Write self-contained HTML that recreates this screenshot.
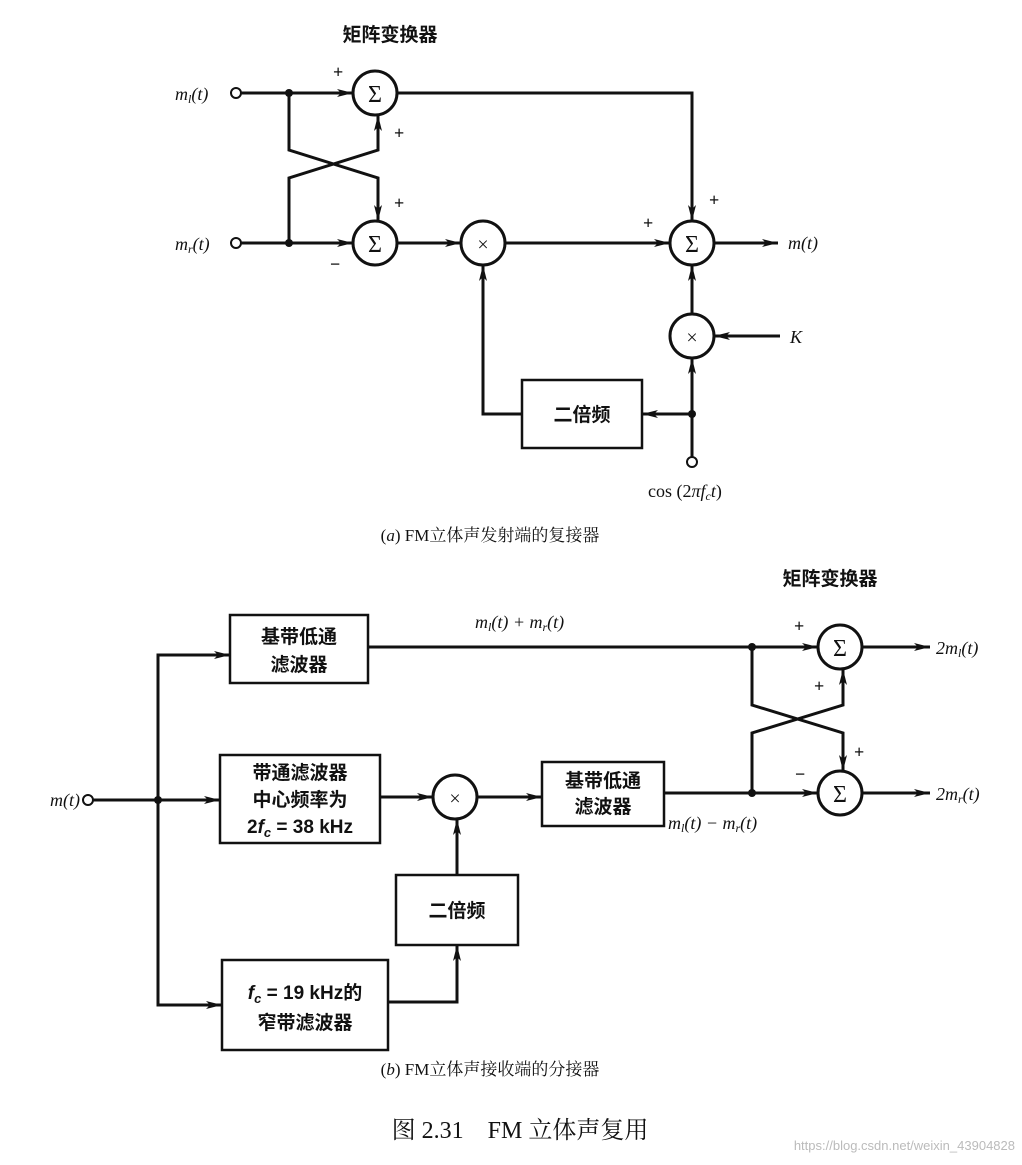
<!DOCTYPE html>
<html><head><meta charset="utf-8"><style>
html,body{margin:0;padding:0;background:#fff;}
svg{display:block;}
text{font-family:"Liberation Serif","Noto Serif CJK SC",serif;fill:#111;}
.cj, .cj text{font-family:"Liberation Sans","Noto Sans CJK SC",sans-serif;font-weight:bold;}
</style></head><body>
<svg width="1022" height="1165" viewBox="0 0 1022 1165" xmlns="http://www.w3.org/2000/svg">
<defs>
<marker id="A" viewBox="0 0 20 10" refX="20" refY="5" markerWidth="16" markerHeight="8" orient="auto" markerUnits="userSpaceOnUse">
<path d="M0,0 L20,5 L0,10 L5,5 z" fill="#111"/></marker>
</defs>
<g stroke="#111" stroke-width="3" fill="none">
<circle cx="236" cy="93" r="5" stroke-width="2"/>
<circle cx="236" cy="243" r="5" stroke-width="2"/>
<line x1="241" y1="93" x2="353" y2="93" marker-end="url(#A)"/>
<line x1="241" y1="243" x2="353" y2="243" marker-end="url(#A)"/>
<circle cx="375" cy="93" r="22"/>
<circle cx="375" cy="243" r="22"/>
<polyline points="289,93 289,150 378,178 378,221" marker-end="url(#A)"/>
<polyline points="289,243 289,178 378,150 378,115" marker-end="url(#A)"/>
<line x1="397" y1="243" x2="461" y2="243" marker-end="url(#A)"/>
<circle cx="483" cy="243" r="22"/>
<line x1="505" y1="243" x2="670" y2="243" marker-end="url(#A)"/>
<polyline points="397,93 692,93 692,221" marker-end="url(#A)"/>
<circle cx="692" cy="243" r="22"/>
<line x1="714" y1="243" x2="778" y2="243" marker-end="url(#A)"/>
<circle cx="692" cy="336" r="22"/>
<line x1="780" y1="336" x2="714" y2="336" marker-end="url(#A)"/>
<line x1="692" y1="314" x2="692" y2="265" marker-end="url(#A)"/>
<line x1="692" y1="457" x2="692" y2="358" marker-end="url(#A)"/>
<circle cx="692" cy="462" r="5" stroke-width="2"/>
<rect x="522" y="380" width="120" height="68" stroke-width="2.5"/>
<line x1="692" y1="414" x2="642" y2="414" marker-end="url(#A)"/>
<polyline points="522,414 483,414 483,265" marker-end="url(#A)"/>
<circle cx="88" cy="800" r="5" stroke-width="2"/>
<line x1="93" y1="800" x2="220" y2="800" marker-end="url(#A)"/>
<polyline points="230,655 158,655 158,1005 222,1005"/>
<line x1="158" y1="655" x2="230" y2="655" marker-end="url(#A)"/>
<line x1="158" y1="1005" x2="222" y2="1005" marker-end="url(#A)"/>
<rect x="230" y="615" width="138" height="68" stroke-width="2.5"/>
<rect x="220" y="755" width="160" height="88" stroke-width="2.5"/>
<rect x="222" y="960" width="166" height="90" stroke-width="2.5"/>
<line x1="368" y1="647" x2="818" y2="647" marker-end="url(#A)"/>
<circle cx="840" cy="647" r="22"/>
<circle cx="840" cy="793" r="22"/>
<line x1="380" y1="797" x2="433" y2="797" marker-end="url(#A)"/>
<circle cx="455" cy="797" r="22"/>
<line x1="477" y1="797" x2="542" y2="797" marker-end="url(#A)"/>
<rect x="542" y="762" width="122" height="64" stroke-width="2.5"/>
<line x1="664" y1="793" x2="818" y2="793" marker-end="url(#A)"/>
<rect x="396" y="875" width="122" height="70" stroke-width="2.5"/>
<polyline points="388,1002 457,1002 457,945" marker-end="url(#A)"/>
<line x1="457" y1="875" x2="457" y2="819" marker-end="url(#A)"/>
<polyline points="752,647 752,705 843,733 843,771" marker-end="url(#A)"/>
<polyline points="752,793 752,733 843,705 843,669" marker-end="url(#A)"/>
<line x1="862" y1="647" x2="930" y2="647" marker-end="url(#A)"/>
<line x1="862" y1="793" x2="930" y2="793" marker-end="url(#A)"/>
</g>
<g fill="#111">
<circle cx="289" cy="93" r="4"/><circle cx="289" cy="243" r="4"/>
<circle cx="692" cy="414" r="4"/>
<circle cx="158" cy="800" r="4"/>
<circle cx="752" cy="647" r="4"/><circle cx="752" cy="793" r="4"/>
</g>
<g font-size="24" text-anchor="middle">
<text x="375" y="102">Σ</text><text x="375" y="252">Σ</text><text x="692" y="252">Σ</text>
<text x="840" y="656">Σ</text><text x="840" y="802">Σ</text>
<text x="483" y="251" font-size="20">×</text><text x="692" y="344" font-size="20">×</text>
<text x="455" y="805" font-size="20">×</text>
</g>
<g font-size="18" font-style="italic">
<text x="175" y="100">m<tspan font-size="12" dy="3">l</tspan><tspan dy="-3">(t)</tspan></text>
<text x="175" y="250">m<tspan font-size="12" dy="3">r</tspan><tspan dy="-3">(t)</tspan></text>
<text x="788" y="249">m(t)</text>
<text x="790" y="343">K</text>
<text x="50" y="806">m(t)</text>
<text x="475" y="628">m<tspan font-size="12" dy="3">l</tspan><tspan dy="-3">(t) + m</tspan><tspan font-size="12" dy="3">r</tspan><tspan dy="-3">(t)</tspan></text>
<text x="668" y="829">m<tspan font-size="12" dy="3">l</tspan><tspan dy="-3">(t) − m</tspan><tspan font-size="12" dy="3">r</tspan><tspan dy="-3">(t)</tspan></text>
<text x="936" y="654">2m<tspan font-size="12" dy="3">l</tspan><tspan dy="-3">(t)</tspan></text>
<text x="936" y="800">2m<tspan font-size="12" dy="3">r</tspan><tspan dy="-3">(t)</tspan></text>
</g>
<text x="648" y="497" font-size="18">cos (2<tspan font-style="italic">πf</tspan><tspan font-size="12" dy="3" font-style="italic">c</tspan><tspan dy="-3" font-style="italic">t</tspan>)</text>
<g font-size="18" font-weight="bold">
<text x="333" y="78">+</text><text x="394" y="139">+</text><text x="394" y="209">+</text><text x="330" y="270">−</text>
<text x="709" y="206">+</text><text x="643" y="229">+</text>
<text x="794" y="632">+</text><text x="814" y="692">+</text><text x="854" y="758">+</text><text x="795" y="780">−</text>
</g>
<g class="cj" font-size="19" text-anchor="middle">
<text x="390" y="41">矩阵变换器</text>
<text x="582" y="421">二倍频</text>
<text x="830" y="585">矩阵变换器</text>
<text x="299" y="643">基带低通</text><text x="299" y="671">滤波器</text>
<text x="300" y="779">带通滤波器</text><text x="300" y="806">中心频率为</text><text x="300" y="833">2<tspan font-style="italic">f</tspan><tspan font-size="13" dy="4" font-style="italic">c</tspan><tspan dy="-4"> = 38 kHz</tspan></text>
<text x="603" y="787">基带低通</text><text x="603" y="813">滤波器</text>
<text x="457" y="917">二倍频</text>
<text x="305" y="999"><tspan font-style="italic">f</tspan><tspan font-size="13" dy="4" font-style="italic">c</tspan><tspan dy="-4"> = 19 kHz的</tspan></text>
<text x="305" y="1029">窄带滤波器</text>
</g>
<g font-size="17" text-anchor="middle">
<text x="490" y="541">(<tspan font-style="italic">a</tspan>) FM立体声发射端的复接器</text>
<text x="490" y="1075">(<tspan font-style="italic">b</tspan>) FM立体声接收端的分接器</text>
<text x="520" y="1138" font-size="24">图 2.31　FM 立体声复用</text>
</g>
<text x="1015" y="1150" font-size="13" text-anchor="end" style="fill:#bbb;font-family:'Liberation Sans',sans-serif">https://blog.csdn.net/weixin_43904828</text>
</svg>
</body></html>
